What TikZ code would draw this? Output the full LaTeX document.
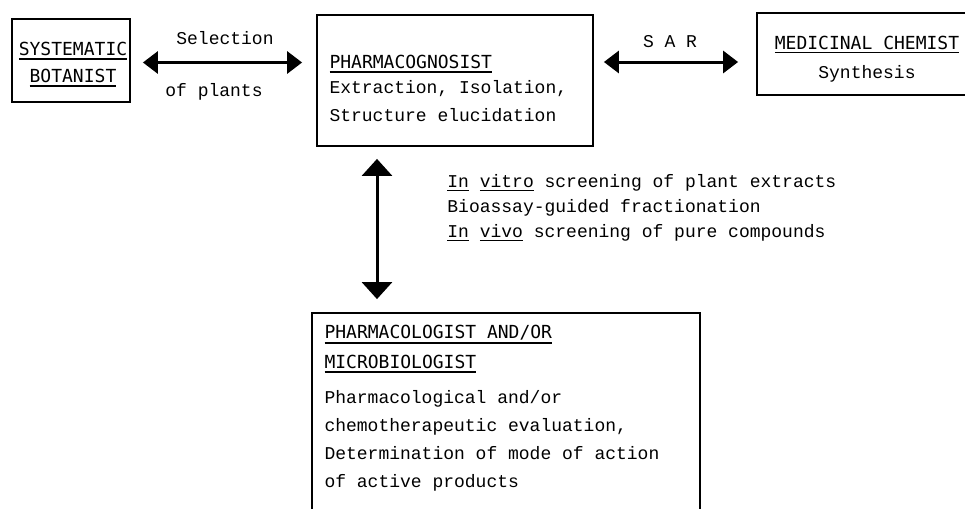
\documentclass[tikz,border=0pt]{standalone}
\usepackage{fontspec}
\usetikzlibrary{arrows.meta,fit}
\newfontfamily\hdfont{DejaVu Sans Mono}
\newfontfamily\txfont{Liberation Mono}
\newcommand\ulin[1]{\vtop{\hbox{#1}\kern1.3pt\hrule height 0.8pt}}

\begin{document}
\begin{tikzpicture}[x=0.5pt, y=-0.5pt,
            box/.style={draw, line width=0.9pt, inner sep=0pt},
            tx/.style={inner sep=0pt, font=\txfont\fontsize{9}{14}\selectfont},
            hd/.style={inner sep=0pt, font=\hdfont\fontsize{9}{13.5}\selectfont},
            harr/.style={line width=1.5pt, {Triangle[length=7.5pt,width=11pt]}-{Triangle[length=7.5pt,width=11pt]}},
            varr/.style={line width=1.5pt, {Triangle[length=8.5pt,width=15pt]}-{Triangle[length=8.5pt,width=15pt]}}
          ]
          \useasboundingbox (0,0) rectangle (965,509);
          \clip (0,0) rectangle (965,509);

          % the four boxes
          \node[box, fit={(12,19) (130,102)}] (bot) {};
          \node[box, fit={(317,15) (593,146)}] (cog) {};
          \node[box, fit={(757,13) (972,95)}] (chem) {};
          \node[box, fit={(312,313) (700,560)}] (pcol) {};

          % texts in the boxes (anchored at the last baseline)
          \node[hd, align=center, anchor=base] (botlbl) at ([shift={(2,64)}]bot.north)
            {\ulin{SYSTEMATIC}\\\ulin{BOTANIST}};
          \node[tx, align=left, anchor=base west] (coglbl) at ([shift={(13,107)}]cog.north west)
            {{\hdfont\ulin{PHARMACOGNOSIST}}\\[-1.5pt]
             Extraction, Isolation,\\
             Structure elucidation};
          \node[tx, align=center, anchor=base] (chemlbl) at (867,78)
            {{\hdfont\ulin{MEDICINAL CHEMIST}}\\[0.5pt] Synthesis};
          \node[tx, align=left, anchor=base west] (pcollbl) at ([shift={(13,175)}]pcol.north west)
            {{\hdfont\ulin{PHARMACOLOGIST AND/OR}}\\[1pt]
             {\hdfont\ulin{MICROBIOLOGIST}}\\[3.5pt]
             Pharmacological and/or\\
             chemotherapeutic evaluation,\\
             Determination of mode of action\\
             of active products};

          % connectors
          \draw[harr] ([shift={(12,2)}]bot.east) -- ([shift={(-14,2)}]bot.east -| cog.west);
          \draw[harr] ([shift={(10,8)}]cog.east |- chem.west) -- ([shift={(-18,8)}]chem.west);
          \draw[varr] ([shift={(-78,12)}]cog.south) -- ([shift={(-78,-13)}]cog.south |- pcol.north);

          % arrow labels
          \node[tx, anchor=base] (sel) at (225,44) {Selection};
          \node[tx, anchor=base] (plants) at (214,96) {of plants};
          \node[tx, anchor=base] (sar) at (670,47) {S A R};
          \node[tx, align=left, anchor=base west, font=\txfont\fontsize{9}{12.5}\selectfont] (screen) at (447,237)
            {\ulin{In} \ulin{vitro} screening of plant extracts\\
             Bioassay-guided fractionation\\
             \ulin{In} \ulin{vivo} screening of pure compounds};
          \end{tikzpicture}
\end{document}
